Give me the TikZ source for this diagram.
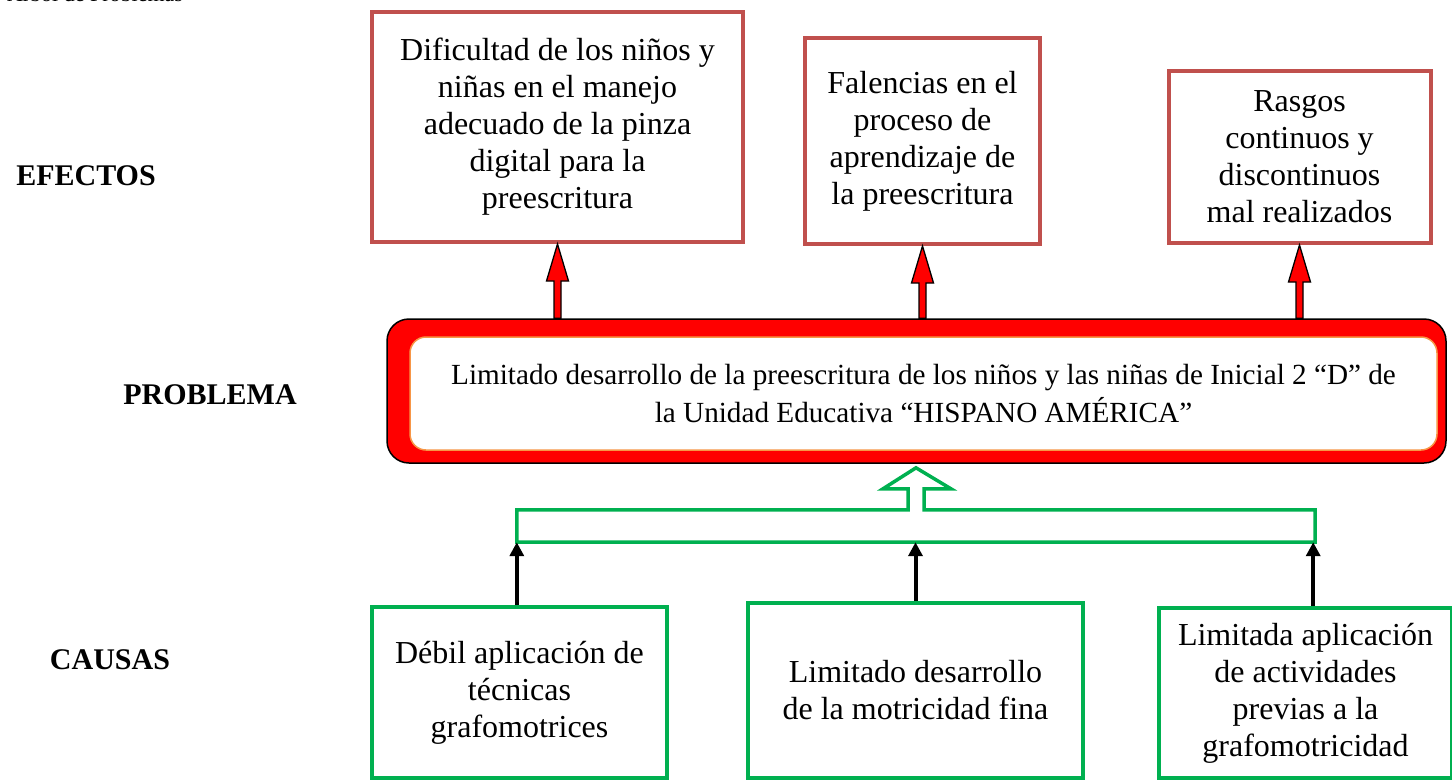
\documentclass[tikz,border=0pt]{standalone}
\usepackage{fontspec}
\setmainfont{Liberation Serif}
\usetikzlibrary{calc,arrows.meta}
\definecolor{efectoborde}{HTML}{C0504D}
\definecolor{causaverde}{HTML}{00B050}
\definecolor{bordenaranja}{HTML}{F79646}

\begin{document}
\begin{tikzpicture}[x=1pt,y=-1pt,
	efecto/.style={draw=efectoborde, line width=4pt, fill=white, align=center, inner sep=0pt, font=\fontsize{32}{37}\selectfont},
	causa/.style={draw=causaverde, line width=4pt, fill=white, align=center, inner sep=0pt, font=\fontsize{32}{37}\selectfont},
	etiqueta/.style={font=\fontsize{30}{34}\selectfont\bfseries},
	flechaefecto/.style={draw=black, line width=1.3pt, fill=red, line join=miter},
	flechacausa/.style={line width=4pt, -{Triangle[width=14pt,length=14pt]}}]
							
							\useasboundingbox (0,0) rectangle (1452,780);
							\node[anchor=base west, inner sep=0pt, font=\fontsize{22}{26}\selectfont] (titulo) at (-6,1.5) {. Árbol de Problemas};
							
							% etiquetas
							\node[etiqueta] (efectos) at (86,176) {EFECTOS};
							\node[etiqueta] (problemalbl) at (210,395) {PROBLEMA};
							\node[etiqueta] (causas) at (110,660) {CAUSAS};
							
							% efectos
							\node[efecto, minimum width=371pt, minimum height=230pt] (e1) at (557.5,127) {Dificultad de los niños y\\niñas en el manejo\\adecuado de la pinza\\digital para la\\preescritura};
							\node[efecto, minimum width=235pt, minimum height=206pt] (e2) at (922.5,141) {Falencias en el\\proceso de\\aprendizaje de\\la preescritura};
							\node[efecto, minimum width=262pt, minimum height=172pt] (e3) at (1299.5,157) {Rasgos\\continuos y\\discontinuos\\mal realizados};
							
							% problema
							\node[draw=black, line width=1.5pt, fill=red, rounded corners=22pt, minimum width=1059pt, minimum height=144pt] (problema) at (916.5,391) {};
							\node[draw=bordenaranja, line width=1.5pt, fill=white, rounded corners=16pt, minimum width=1027pt, minimum height=113pt, align=center, font=\fontsize{29.2}{38}\selectfont] (texto) at (923.5,393.5) {Limitado desarrollo de la preescritura de los niños y las niñas de Inicial 2 “D” de\\la Unidad Educativa “HISPANO AMÉRICA”};
							
							\foreach \efecto in {e1,e2,e3}
							{
								\coordinate (base) at (problema.north -| \efecto.south);
								\draw[flechaefecto] ($(base)+(-3.5,0)$) -- ($(\efecto.south)+(-3.5,37)$) -- ($(\efecto.south)+(-11,37)$) -- (\efecto.south)
									-- ($(\efecto.south)+(11,37)$) -- ($(\efecto.south)+(3.5,37)$) -- ($(base)+(3.5,0)$) -- cycle;
							};
							
							% causas
							\node[causa, minimum width=295pt, minimum height=171pt] (c1) at (519.5,692.5) {Débil aplicación de\\técnicas\\grafomotrices};
							\node[causa, minimum width=335pt, minimum height=175pt] (c2) at (915.5,690.5) {Limitado desarrollo\\de la motricidad fina};
							\node[causa, minimum width=293pt, minimum height=170pt] (c3) at (1305.5,693) {Limitada aplicación\\de actividades\\previas a la\\grafomotricidad};
							
							% barra con flecha hueca
							\node[inner sep=0pt, minimum width=798pt, minimum height=32pt] (barra) at (916,526) {};
							\draw[draw=causaverde, line width=3.5pt, line join=miter] (barra.south west) -- (barra.north west) -- ($(barra.north)+(-8,0)$) -- ++(0,-21) -- ++(-25,0)
								-- ($(barra.north)+(0,-42)$) -- ($(barra.north)+(35,-21)$) -- ++(-27,0) -- ($(barra.north)+(8,0)$) -- (barra.north east) -- (barra.south east) -- cycle;
							
							\draw[flechacausa] (c1.north -| barra.south west) -- (barra.south west);
							\draw[flechacausa] (c2.north) -- (c2.north |- barra.south);
							\draw[flechacausa] ($(c3.north -| barra.south east)+(-2,0)$) -- ($(barra.south east)+(-2,0)$);
							
							\end{tikzpicture}
\end{document}
